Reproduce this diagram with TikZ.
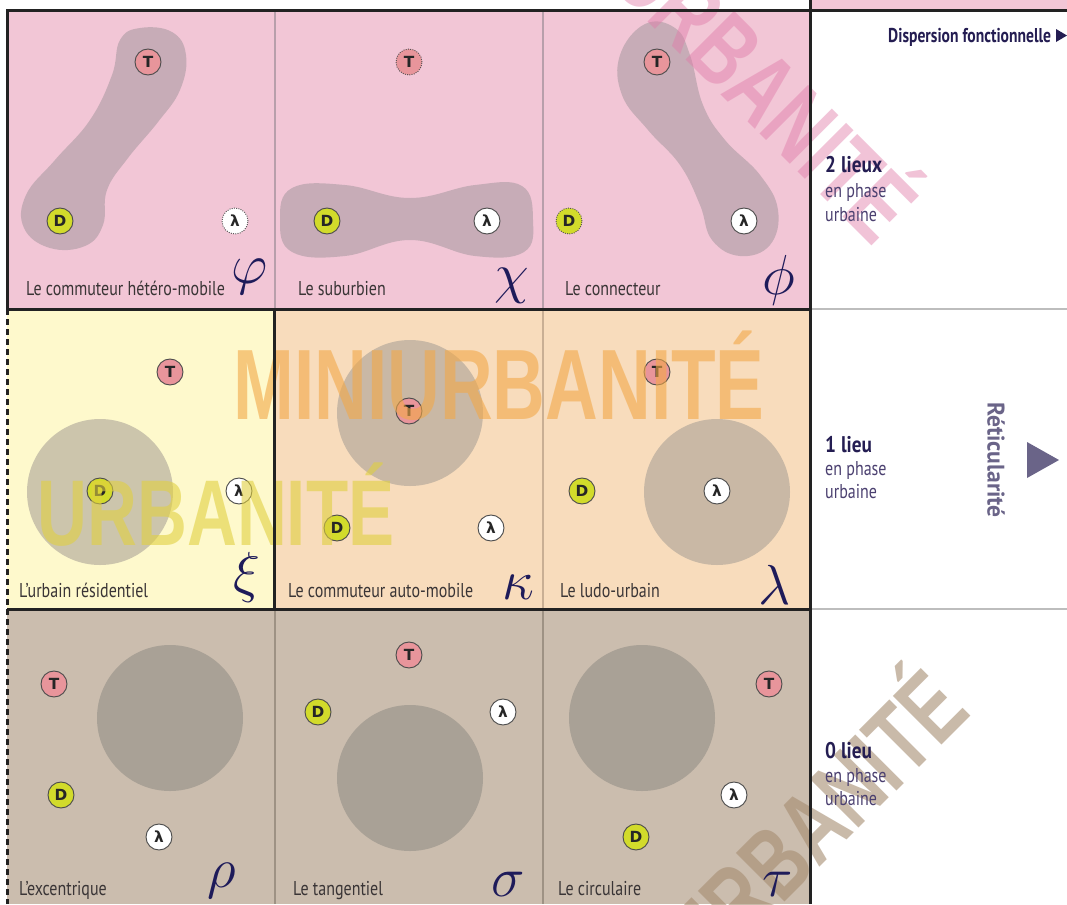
\documentclass[tikz,border=0pt]{standalone}
\usepackage{fontspec}
\newfontfamily\labfont{PT Sans}
\newfontfamily\wmfont{Liberation Sans}
\newfontfamily\dvfont{DejaVu Sans}
\definecolor{pinkbg}{HTML}{F2C6D6}
\definecolor{yellowbg}{HTML}{FEF9CC}
\definecolor{peachbg}{HTML}{F8DCBC}
\definecolor{tanbg}{HTML}{CBBDAE}
\definecolor{blobc}{HTML}{C7ACB7}
\definecolor{disk}{HTML}{A39C93}
\definecolor{diskdark}{HTML}{A9A196}
\definecolor{navy}{HTML}{1E1B5A}
\definecolor{labgray}{HTML}{3A3536}
\definecolor{Tcol}{HTML}{E8959B}
\definecolor{Dcol}{HTML}{D2DB2B}
\definecolor{wmpink}{HTML}{E07AA8}
\definecolor{wmorange}{HTML}{F2A848}
\definecolor{wmyellow}{HTML}{E0D040}
\definecolor{wmtan}{HTML}{A58C70}
\definecolor{sidepurple}{HTML}{4B4070}
\definecolor{sidenavy}{HTML}{241D52}
\definecolor{reticol}{HTML}{6A6488}
\definecolor{sepA}{HTML}{B89FAB}
\definecolor{sepB}{HTML}{C9AF94}
\definecolor{sepC}{HTML}{9E9284}
\definecolor{frame}{HTML}{222222}
\definecolor{rightsep}{HTML}{BDBDBD}
\begin{document}
\begin{tikzpicture}[x=0.75pt,y=-0.75pt,
  spot/.style={circle, draw=black!70, line width=0.7pt, minimum size=19.5pt, inner sep=0pt,
     font=\dvfont\bfseries\fontsize{11.5}{11.5}\selectfont, text=black!85},
  Tsp/.style={spot, fill=Tcol},
  Dsp/.style={spot, fill=Dcol},
  Lsp/.style={spot, fill=white},
  dotb/.style={densely dotted},
  celllab/.style={anchor=base west, inner sep=0pt, text=labgray, xscale=0.8,
     font=\labfont\fontsize{15}{15}\selectfont},
  greek/.style={inner sep=0pt, text=navy, scale=1.7, font=\Huge},
  sidebold/.style={anchor=base west, inner sep=0pt, text=sidenavy, xscale=0.85,
     font=\labfont\bfseries\fontsize{17}{17}\selectfont},
  disptxt/.style={anchor=base west, inner sep=0pt, text=sidenavy, xscale=0.78,
     font=\labfont\bfseries\fontsize{15}{15}\selectfont},
  sidetxt/.style={anchor=base west, inner sep=0pt, text=sidepurple, xscale=0.8,
     font=\labfont\fontsize{15}{15}\selectfont},
  wm/.style={inner sep=0pt, anchor=base, font=\wmfont\bfseries\fontsize{75}{75}\selectfont},
  thickframe/.style={frame, line width=2.25pt},
]
\useasboundingbox (0,0) rectangle (1067,904);
\clip (0,0) rectangle (1067,904);
\fill[white] (0,0) rectangle (1067,904);
% cell backgrounds
\fill[pinkbg] (7,10) rectangle (810,309);
\fill[yellowbg] (7,309) rectangle (274,609);
\fill[peachbg] (274,309) rectangle (810,609);
\fill[tanbg] (7,609) rectangle (810,904);
\fill[pinkbg] (812,0) rectangle (1067,9);
% blobs
\fill[blobc] plot[smooth cycle, tension=0.7] coordinates {(140,28) (172,32) (186,55) (180,90) (158,122) (128,158) (107,190) (103,225) (85,246) (50,248) (24,228) (26,195) (55,160) (90,120) (112,75) (120,40)};
\fill[blobc] plot[smooth cycle, tension=0.7] coordinates {(292,188) (345,185) (410,198) (475,185) (522,186) (533,220) (524,252) (475,256) (410,240) (345,256) (292,252) (280,220)};
\fill[blobc] plot[smooth cycle, tension=0.7] coordinates {(645,24) (675,28) (690,55) (703,105) (725,140) (760,175) (778,210) (770,245) (740,256) (712,240) (700,205) (680,165) (648,130) (622,95) (620,55)};
% disks
\fill[disk, opacity=0.55] (100,492) circle[radius=73];
\fill[disk, opacity=0.55] (410,413) circle[radius=73];
\fill[disk, opacity=0.55] (717,492) circle[radius=73];
\fill[diskdark] (170,718) circle[radius=73];
\fill[diskdark] (410,778) circle[radius=73];
\fill[diskdark] (642,718) circle[radius=73];
% thin separators
\draw[sepA, line width=1.4pt] (275,10) -- (275,309) (543,10) -- (543,309);
\draw[sepB, line width=1.4pt] (543,309) -- (543,609);
\draw[sepC, line width=1.4pt] (275,609) -- (275,904) (543,609) -- (543,904);
\draw[rightsep, line width=1.5pt] (810,309) -- (1067,309) (810,609) -- (1067,609);
% spots row 1
\node[Tsp] (phiT) at (148,62) {T};
\node[Dsp] (phiD) at (60,221) {D};
\node[Lsp, dotb] (phiL) at (235,221) {λ};
\node[Tsp, dotb] (chiT) at (409,62) {T};
\node[Dsp] (chiD) at (327,221) {D};
\node[Lsp] (chiL) at (487,221) {λ};
\node[Tsp] (psiT) at (657,62) {T};
\node[Dsp, dotb] (psiD) at (569,221) {D};
\node[Lsp] (psiL) at (744,221) {λ};
% spots row 2
\node[Tsp] (xiT) at (170,372) {T};
\node[Dsp] (xiD) at (100,491) {D};
\node[Lsp] (xiL) at (239,491) {λ};
\node[Tsp] (kaT) at (409,411) {T};
\node[Dsp] (kaD) at (337,528) {D};
\node[Lsp] (kaL) at (491,528) {λ};
\node[Tsp] (laT) at (657,372) {T};
\node[Dsp] (laD) at (582,491) {D};
\node[Lsp] (laL) at (717,491) {λ};
% spots row 3
\node[Tsp] (rhT) at (54,684) {T};
\node[Dsp] (rhD) at (61,795) {D};
\node[Lsp] (rhL) at (159,837) {λ};
\node[Tsp] (siT) at (409,655) {T};
\node[Dsp] (siD) at (318,712) {D};
\node[Lsp] (siL) at (503,712) {λ};
\node[Tsp] (taT) at (769,684) {T};
\node[Dsp] (taD) at (636,837) {D};
\node[Lsp] (taL) at (734,795) {λ};
% watermarks
\node[wm, text=wmpink, text opacity=0.45, rotate=-45, xscale=0.73] (wmA) at (741,115) {URBANITÉ};
\node[wm, text=wmorange, text opacity=0.6, xscale=0.73] (wmB) at (499,419) {MINIURBANITÉ};
\node[wm, text=wmyellow, text opacity=0.6, xscale=0.74, font=\wmfont\bfseries\fontsize{70}{70}\selectfont] (wmC) at (216,545) {URBANITÉ};
\node[wm, text=wmtan, text opacity=0.6, rotate=45, xscale=0.73] (wmD) at (840,847) {URBANITÉ};
% frames
\draw[thickframe] (7,10) -- (1067,10);
\draw[thickframe] (810,0) -- (810,904);
\draw[thickframe] (7,309) -- (810,309);
\draw[thickframe] (7,609) -- (810,609);
\draw[thickframe] (274,309) -- (274,609);
\draw[thickframe] (7,9) -- (7,309);
\draw[frame, line width=2.25pt, dash pattern=on 4.5pt off 3pt] (7,309) -- (7,904);
% cell labels
\node[celllab] (l1) at (26,295) {Le commuteur hétéro-mobile};
\node[celllab] (l2) at (298,295) {Le suburbien};
\node[celllab] (l3) at (565,295) {Le connecteur};
\node[celllab] (l4) at (19,597) {L’urbain résidentiel};
\node[celllab] (l5) at (288,597) {Le commuteur auto-mobile};
\node[celllab] (l6) at (560,597) {Le ludo-urbain};
\node[celllab] (l7) at (19,895) {L’excentrique};
\node[celllab] (l8) at (293,895) {Le tangentiel};
\node[celllab] (l9) at (558,895) {Le circulaire};
% greek letters
\node[greek] (g1) at (250,277) {$\varphi$};
\node[greek] (g2) at (512,286) {$\chi$};
\node[greek] (g3) at (779,280) {$\phi$};
\node[greek] (g4) at (247,577) {$\xi$};
\node[greek] (g5) at (518,587) {$\kappa$};
\node[greek] (g6) at (775,585) {$\lambda$};
\node[greek] (g7) at (222,881) {$\rho$};
\node[greek] (g8) at (508,884) {$\sigma$};
\node[greek] (g9) at (778,884) {$\tau$};
% right column
\node[disptxt] (disp) at (888,42) {Dispersion fonctionnelle};
\fill[sidenavy] (1056,29) -- (1056,42) -- (1067,35.5) -- cycle;
\node[sidebold] (two) at (825,172) {2 lieux};
\node[sidetxt] (twoa) at (825,197) {en phase};
\node[sidetxt] (twob) at (825,221) {urbaine};
\node[sidebold] (one) at (825,452) {1 lieu};
\node[sidetxt] (onea) at (825,475) {en phase};
\node[sidetxt] (oneb) at (825,498) {urbaine};
\node[sidebold] (zero) at (825,758) {0 lieu};
\node[sidetxt] (zeroa) at (825,782) {en phase};
\node[sidetxt] (zerob) at (825,805) {urbaine};
\node[inner sep=0pt, text=reticol, rotate=-90, xscale=0.98, font=\labfont\bfseries\fontsize{18}{18}\selectfont] (reti) at (996,460) {Réticularité};
\fill[reticol] (1027,442) -- (1027,478) -- (1059,460) -- cycle;
\end{tikzpicture}
\end{document}
